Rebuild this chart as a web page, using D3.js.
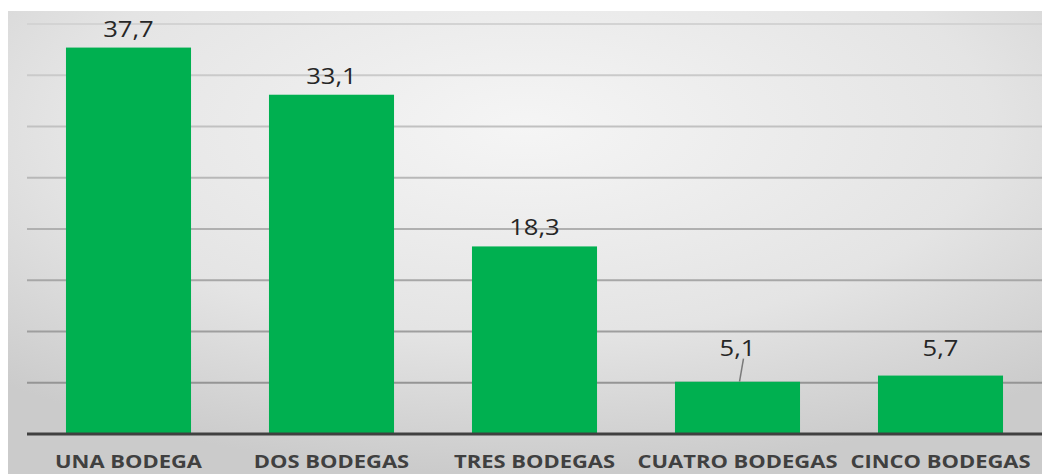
<!DOCTYPE html>
<html>
<head>
<meta charset="utf-8">
<script src="https://cdn.jsdelivr.net/npm/d3@7"></script>
<style>
  body { margin: 0; background: #fff; }
  svg { display: block; }
</style>
</head>
<body>
<figure id="chart" style="margin:0"></figure>
<script>
const categories = ["UNA BODEGA", "DOS BODEGAS", "TRES BODEGAS", "CUATRO BODEGAS", "CINCO BODEGAS"];
const values = [37.7, 33.1, 18.3, 5.1, 5.7];
const valueLabels = ["37,7", "33,1", "18,3", "5,1", "5,7"];
const gridTicks = [5, 10, 15, 20, 25, 30, 35, 40];

const width = 1042, height = 474;
const plot = {left: 27, right: 1042, top: 24, bottom: 434};
const stretch = 1.22; // the source picture is widened, so text is too

const svg = d3.select("#chart").append("svg")
  .attr("width", width)
  .attr("height", height);

const defs = svg.append("defs");
const bg = defs.append("radialGradient")
  .attr("id", "bg")
  .attr("cx", "50%").attr("cy", "25%")
  .attr("r", "75%");
bg.append("stop").attr("offset", "0%").attr("stop-color", "#f5f5f5");
bg.append("stop").attr("offset", "60%").attr("stop-color", "#e4e4e4");
bg.append("stop").attr("offset", "100%").attr("stop-color", "#cbcbcb");

svg.append("rect")
  .attr("x", 8).attr("y", 11)
  .attr("width", width - 8).attr("height", height - 11)
  .attr("fill", "url(#bg)");

const x = d3.scaleBand()
  .domain(categories)
  .range([plot.left, plot.right])
  .paddingInner(0.384)
  .paddingOuter(0.192);

const y = d3.scaleLinear().domain([0, 40]).range([plot.bottom, plot.top]);

// gridlines, getting darker towards the bottom
const gridColor = d3.interpolateRgb("#d3d3d3", "#8c8c8c");
svg.append("g")
  .selectAll("line")
  .data(gridTicks)
  .enter()
  .append("line")
  .attr("x1", plot.left)
  .attr("x2", plot.right)
  .attr("y1", d => y(d))
  .attr("y2", d => y(d))
  .attr("stroke", d => gridColor(1 - d / 40))
  .attr("stroke-width", 2);

// bars
svg.append("g")
  .selectAll("rect")
  .data(values)
  .enter()
  .append("rect")
  .attr("x", (d, i) => x(categories[i]))
  .attr("y", d => y(d))
  .attr("width", x.bandwidth())
  .attr("height", d => y(0) - y(d))
  .attr("fill", "#00b050");

// x axis
const xAxis = svg.append("g")
  .attr("transform", "translate(0," + plot.bottom + ")")
  .call(d3.axisBottom(x).tickSize(0).tickPadding(21));
xAxis.select(".domain")
  .attr("d", "M" + plot.left + ",0H" + plot.right)
  .attr("stroke", "#404040")
  .attr("stroke-width", 3);
xAxis.selectAll("text")
  .attr("font-family", "'Open Sans', sans-serif")
  .attr("font-size", 18)
  .attr("font-weight", "bold")
  .attr("fill", "#404040")
  .attr("transform", "scale(" + stretch + ",1)");

// value labels; the small bars share one label height, with a leader line where it is lifted
const smallTop = y(d3.max(values.filter(v => v < 8)));
const labels = values.map((v, i) => ({
  cx: x(categories[i]) + x.bandwidth() / 2,
  top: y(v),
  ly: v < 8 ? smallTop - 20 : y(v) - 11,
  text: valueLabels[i]
}));

svg.append("g")
  .selectAll("line")
  .data(labels.filter(d => d.top - d.ly > 24))
  .enter()
  .append("line")
  .attr("x1", d => d.cx + 6)
  .attr("y1", d => d.ly + 3)
  .attr("x2", d => d.cx + 2)
  .attr("y2", d => d.top)
  .attr("stroke", "#7a7a7a")
  .attr("stroke-width", 1.5);

svg.append("g")
  .selectAll("text")
  .data(labels)
  .enter()
  .append("text")
  .attr("transform", d => "translate(" + d.cx + "," + d.ly + ") scale(" + stretch + ",1)")
  .attr("text-anchor", "middle")
  .attr("font-family", "'Open Sans', sans-serif")
  .attr("font-size", 21)
  .attr("fill", "#262626")
  .text(d => d.text);
</script>
</body>
</html>
